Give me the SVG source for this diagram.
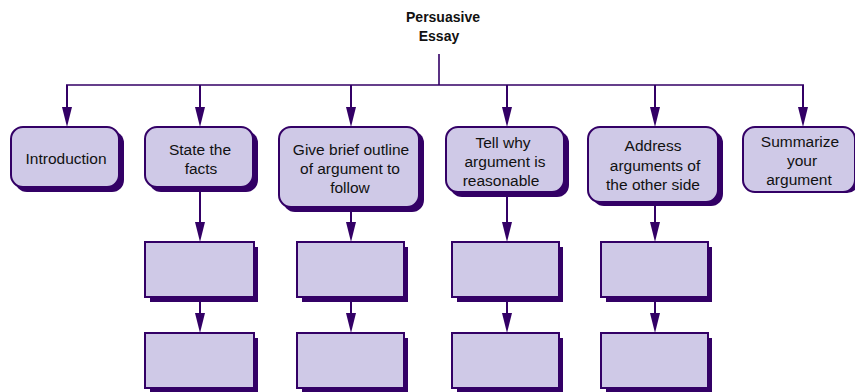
<svg xmlns="http://www.w3.org/2000/svg" width="855" height="392" viewBox="0 0 855 392">
<style>
.box{fill:#cfc9e7;stroke:#330066;stroke-width:2}
.sh{fill:#330066}
.ln{stroke:#330066;stroke-width:2;fill:none}
.t{font-family:"Liberation Sans",Arial,sans-serif;font-size:15.5px;fill:#111;text-anchor:middle}
.title{font-family:"Liberation Sans",Arial,sans-serif;font-size:14px;font-weight:bold;fill:#111;text-anchor:middle}
</style>
<rect width="855" height="392" fill="#fff"/>
<g id="title"><text class="title" x="443" y="22">Persuasive</text><text class="title" x="439" y="41">Essay</text></g>
<g id="connectors">
<path d="M439,54 V85 M66,85 H804" stroke="#330066" stroke-width="1.6" fill="none"/>
<path class="ln" d="M67,85 V107 M200,85 V107 M351,85 V107 M507,85 V107 M655,85 V107 M803,85 V107"/>
<g fill="#330066">
<path d="M62,107 H72 L67,127 Z"/><path d="M195,107 H205 L200,127 Z"/><path d="M346,107 H356 L351,127 Z"/><path d="M502,107 H512 L507,127 Z"/><path d="M650,107 H660 L655,127 Z"/><path d="M798,107 H808 L803,127 Z"/>
</g>
<path class="ln" d="M200,192 V222 M200,302 V313 M351,212 V222 M351,302 V313 M507,197 V222 M507,302 V313 M655,206 V222 M655,302 V313"/>
<g fill="#330066">
<path d="M195,222 H205 L200,242 Z"/><path d="M346,222 H356 L351,242 Z"/><path d="M502,222 H512 L507,242 Z"/><path d="M650,222 H660 L655,242 Z"/>
<path d="M195,313 H205 L200,333 Z"/><path d="M346,313 H356 L351,333 Z"/><path d="M502,313 H512 L507,333 Z"/><path d="M650,313 H660 L655,333 Z"/>
</g>
</g>
<g id="introduction"><rect class="sh" x="15" y="131" width="109" height="61" rx="12"/><rect class="box" x="11" y="127" width="108" height="60" rx="12"/><text class="t" x="66" y="164">Introduction</text></g>
<g id="state"><rect class="sh" x="149" y="131" width="109" height="61" rx="12"/><rect class="box" x="145" y="127" width="108" height="60" rx="12"/><text class="t" x="200" y="155">State the</text><text class="t" x="201" y="174">facts</text></g>
<g id="outline"><rect class="sh" x="283" y="131" width="141" height="81" rx="12"/><rect class="box" x="279" y="127" width="140" height="80" rx="12"/><text class="t" x="351" y="155">Give brief outline</text><text class="t" x="350" y="174">of argument to</text><text class="t" x="350" y="193">follow</text></g>
<g id="tellwhy"><rect class="sh" x="450" y="131" width="119" height="66" rx="12"/><rect class="box" x="446" y="127" width="118" height="65" rx="12"/><text class="t" x="503" y="148">Tell  why</text><text class="t" x="505" y="167">argument is</text><text class="t" x="501" y="186">reasonable</text></g>
<g id="address"><rect class="sh" x="592" y="131" width="131" height="75" rx="12"/><rect class="box" x="588" y="127" width="130" height="75" rx="12"/><text class="t" x="653" y="151">Address</text><text class="t" x="655" y="171">arguments of</text><text class="t" x="653" y="190">the other side</text></g>
<g id="summarize"><rect class="sh" x="747" y="131" width="112" height="62" rx="12"/><rect class="box" x="743" y="127" width="112" height="65" rx="12"/><text class="t" x="800" y="147">Summarize</text><text class="t" x="802" y="166">your</text><text class="t" x="799" y="185">argument</text></g>
<g id="r1c1"><rect class="sh" x="150" y="247" width="108" height="55"/><rect class="box" x="145" y="242" width="109" height="55"/></g>
<g id="r1c2"><rect class="sh" x="302" y="247" width="106" height="55"/><rect class="box" x="297" y="242" width="107" height="55"/></g>
<g id="r1c3"><rect class="sh" x="457" y="247" width="106" height="55"/><rect class="box" x="452" y="242" width="107" height="55"/></g>
<g id="r1c4"><rect class="sh" x="606" y="247" width="106" height="55"/><rect class="box" x="601" y="242" width="107" height="55"/></g>
<g id="r2c1"><rect class="sh" x="150" y="338" width="108" height="55"/><rect class="box" x="145" y="333" width="109" height="55"/></g>
<g id="r2c2"><rect class="sh" x="302" y="338" width="106" height="55"/><rect class="box" x="297" y="333" width="107" height="55"/></g>
<g id="r2c3"><rect class="sh" x="457" y="338" width="106" height="55"/><rect class="box" x="452" y="333" width="107" height="55"/></g>
<g id="r2c4"><rect class="sh" x="606" y="338" width="106" height="55"/><rect class="box" x="601" y="333" width="107" height="55"/></g>
</svg>
